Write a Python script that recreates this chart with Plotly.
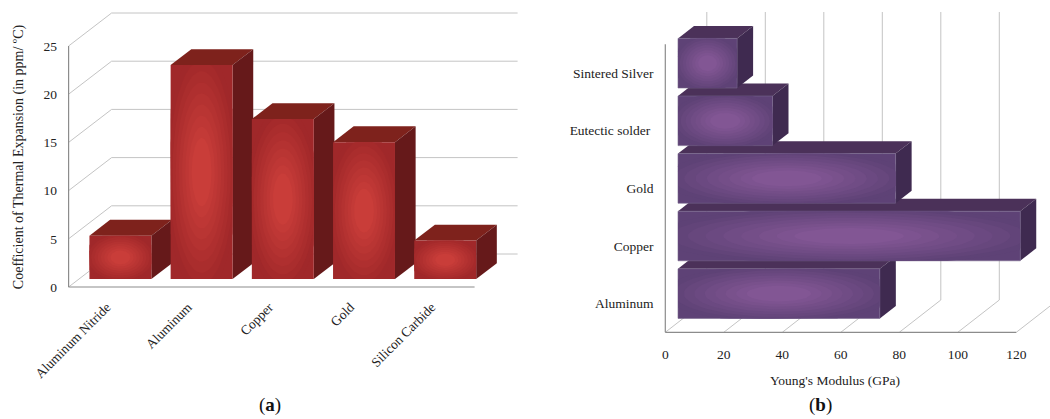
import plotly.graph_objects as go
import numpy as np

W, H = 1050, 419
FONT = "Liberation Serif"

# ---- data ----
cte_materials = ["Aluminum Nitride", "Aluminum", "Copper", "Gold", "Silicon Carbide"]
cte_values = [4.5, 22.2, 16.6, 14.2, 4.0]
cte_ticks = [0, 5, 10, 15, 20, 25]

modulus_materials = ["Aluminum", "Copper", "Gold", "Eutectic solder\u00a0", "Sintered Silver"]
modulus_values = [69, 117, 74.4, 32.3, 20.2]
modulus_ticks = [0, 20, 40, 60, 80, 100, 120]

# ---- styles ----
GRID = "#c4c4c4"
AXIS = "#8c8c8c"
RED = dict(center=(201, 61, 57), edge=(160, 40, 42), top="#7e221c", side="#66191a", line="rgba(0,0,0,0)")
PURPLE = dict(center=(130, 86, 148), edge=(94, 66, 118), top="#4b3159", side="#3f2a50", line="#75648c")

fig = go.Figure()


def poly(xs, ys, color, xa, ya, line=None):
    fig.add_trace(go.Scatter(x=xs, y=ys, xaxis=xa, yaxis=ya, mode="lines", fill="toself", fillcolor=color,
                             line=dict(color=line or "rgba(0,0,0,0)", width=0.6 if line else 0),
                             hoverinfo="skip", showlegend=False))


def seg(xs, ys, color, xa, ya, width=1):
    fig.add_trace(go.Scatter(x=xs, y=ys, xaxis=xa, yaxis=ya, mode="lines", line=dict(color=color, width=width),
                             hoverinfo="skip", showlegend=False))


def gradient(x0, x1, y0, y1, style, xa, ya, levels=9):
    """Stepped elliptical shading on a bar's front face, clipped to the face."""
    cx, cy = (x0 + x1) / 2, (y0 + y1) / 2
    hx, hy = (x1 - x0) / 2, (y1 - y0) / 2
    t = np.linspace(0, 2 * np.pi, 73)
    c0, c1 = np.array(style["center"]), np.array(style["edge"])
    for k in range(levels):
        f = k / (levels - 1)
        r = 1.15 * (1 - f) + 0.32 * f
        col = c1 + (c0 - c1) * f
        ex = np.clip(cx + r * hx * np.cos(t), x0, x1)
        ey = np.clip(cy + r * hy * np.sin(t), y0, y1)
        poly(list(ex), list(ey), "rgb(%d,%d,%d)" % tuple(col), xa, ya)


# ---- panel (a): vertical bars ----
AX, AY, PPX, PPV = 68.6, 287.0, 81.2, 9.64      # origin pixel, px per category, px per unit
A_DX, A_DV = 43 / PPX, 33 / PPV                 # wall offset in data units
A_D0, A_D1 = 0.24, 0.72
A_SHIFT = 0.011                                 # bars sit a hair right of the category centre
A_W = 0.763 / 2
a_dom_px = (0, 525)
a_ydom_px = (10, 304)
a_xr = [-0.5 + (a_dom_px[0] - AX) / PPX, -0.5 + (a_dom_px[1] - AX) / PPX]
a_yr = [(AY - a_ydom_px[1]) / PPV, (AY - a_ydom_px[0]) / PPV]
n = len(cte_materials)
xe = n - 0.5
for v in cte_ticks:
    seg([-0.5, -0.5 + A_DX, xe + A_DX], [v, v + A_DV, v + A_DV], GRID, "x", "y")
seg([-0.5, -0.5], [0, 25], AXIS, "x", "y", 1.2)
seg([-0.5, xe], [0, 0], AXIS, "x", "y", 1.2)
for i, v in enumerate(cte_values):
    xl, xr = i - A_W + A_D0 * A_DX + A_SHIFT, i + A_W + A_D0 * A_DX + A_SHIFT
    yb, yt = A_D0 * A_DV, v + A_D0 * A_DV
    ddx, ddv = (A_D1 - A_D0) * A_DX, (A_D1 - A_D0) * A_DV
    poly([xl, xr, xr + ddx, xl + ddx, xl], [yt, yt, yt + ddv, yt + ddv, yt], RED["top"], "x", "y")
    poly([xr, xr + ddx, xr + ddx, xr, xr], [yb, yb + ddv, yt + ddv, yt, yb], RED["side"], "x", "y")
    poly([xl, xr, xr, xl, xl], [yb, yb, yt, yt, yb], "rgb%s" % (RED["edge"],), "x", "y")
    gradient(xl, xr, yb, yt, RED, "x", "y")

# ---- panel (b): horizontal bars ----
BX, BY, PPU, PPC = 665.3, 332.3, 2.925, 57.6
B_DV, B_DC = 41.5 / PPU, 32.3 / PPC
B_D0, B_D1 = 0.306, 0.692
B_H = 0.861 / 2
b_dom_px = (620, 1050)
b_ydom_px = (5, 345)
b_xr = [(b_dom_px[0] - BX) / PPU, (b_dom_px[1] - BX) / PPU]
b_yr = [-0.5 + (BY - b_ydom_px[1]) / PPC, -0.5 + (BY - b_ydom_px[0]) / PPC]
m = len(modulus_materials)
ye = m - 0.5
for v in modulus_ticks:
    seg([v, v + B_DV, v + B_DV], [-0.5, -0.5 + B_DC, ye + B_DC], GRID, "x2", "y2")
seg([0, 0], [-0.5, ye], AXIS, "x2", "y2", 1.2)
seg([0, modulus_ticks[-1]], [-0.5, -0.5], AXIS, "x2", "y2", 1.2)
for i, v in enumerate(modulus_values):
    xl, xr = B_D0 * B_DV, v + B_D0 * B_DV
    yb, yt = i - B_H + B_D0 * B_DC, i + B_H + B_D0 * B_DC
    ddx, ddc = (B_D1 - B_D0) * B_DV, (B_D1 - B_D0) * B_DC
    poly([xl, xr, xr + ddx, xl + ddx, xl], [yt, yt, yt + ddc, yt + ddc, yt], PURPLE["top"], "x2", "y2")
    poly([xr, xr + ddx, xr + ddx, xr, xr], [yb, yb + ddc, yt + ddc, yt, yb], PURPLE["side"], "x2", "y2")
    poly([xl, xr, xr, xl, xl], [yb, yb, yt, yt, yb], "rgb%s" % (PURPLE["edge"],), "x2", "y2", PURPLE["line"])
    gradient(xl, xr, yb, yt, PURPLE, "x2", "y2")

tickfont = dict(family=FONT, size=13.5, color="#222222")
titlefont_a = dict(family=FONT, size=14, color="#222222")
hide = "rgba(0,0,0,0)"
fig.update_layout(
    width=W, height=H, autosize=False,
    margin=dict(l=0, r=0, t=0, b=0), paper_bgcolor="white", plot_bgcolor="rgba(0,0,0,0)", showlegend=False,
    xaxis=dict(domain=[a_dom_px[0] / W, a_dom_px[1] / W], range=a_xr, anchor="free", position=(H - AY) / H,
               tickmode="array", tickvals=[i - 0.03 for i in range(n)], ticktext=cte_materials, tickangle=-45,
               ticks="outside", ticklen=6, tickcolor=hide, showgrid=False, zeroline=False, showline=False,
               tickfont=tickfont),
    yaxis=dict(domain=[(H - a_ydom_px[1]) / H, (H - a_ydom_px[0]) / H], range=a_yr, anchor="free",
               position=AX / W, tickmode="array", tickvals=cte_ticks, ticks="outside", ticklen=9, tickcolor=hide,
               showgrid=False, zeroline=False, showline=False, tickfont=tickfont,
               title=dict(text="Coefficient of Thermal Expansion (in ppm/\u00a0\u00baC)", font=titlefont_a, standoff=15)),
    xaxis2=dict(domain=[b_dom_px[0] / W, b_dom_px[1] / W], range=b_xr, anchor="free", position=(H - BY) / H,
                tickmode="array", tickvals=modulus_ticks, ticks="outside", ticklen=9, tickcolor=hide, tickangle=0,
                showgrid=False, zeroline=False, showline=False, tickfont=tickfont,
                title=dict(text="Young's Modulus (GPa)", font=tickfont, standoff=15)),
    yaxis2=dict(domain=[(H - b_ydom_px[1]) / H, (H - b_ydom_px[0]) / H], range=b_yr, anchor="free",
                position=BX / W, tickmode="array", tickvals=list(range(m)), ticktext=modulus_materials,
                ticks="outside", ticklen=9, tickcolor=hide, showgrid=False, zeroline=False, showline=False,
                tickfont=tickfont),
    annotations=[
        dict(text="(<b>a</b>)", x=270 / W, y=1 - 405 / H, xref="paper", yref="paper", showarrow=False,
             xanchor="center", yanchor="middle", font=dict(family=FONT, size=19, color="#111111")),
        dict(text="(<b>b</b>)", x=820 / W, y=1 - 405 / H, xref="paper", yref="paper", showarrow=False,
             xanchor="center", yanchor="middle", font=dict(family=FONT, size=19, color="#111111")),
    ],
)

fig.write_html("out.html", config=dict(displayModeBar=False),
               post_script="document.body.style.margin='0';document.documentElement.style.overflow='hidden';")
